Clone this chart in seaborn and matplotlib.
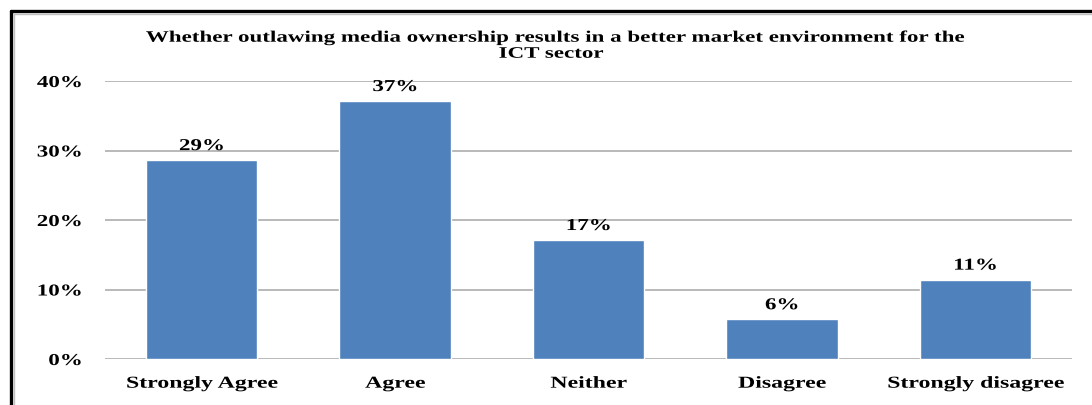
import matplotlib
matplotlib.use("Agg")
import matplotlib.pyplot as plt
import seaborn as sns
import pandas as pd
from matplotlib.lines import Line2D
from matplotlib.patheffects import AbstractPathEffect
from matplotlib.transforms import Affine2D

categories = ["Strongly Agree", "Agree", "Neither", "Disagree", "Strongly disagree"]
shares = [28.6, 37.1, 17.1, 5.7, 11.4]  # percent of respondents
y_ticks = [0, 10, 20, 30, 40]
title_lines = ["Whether outlawing media ownership results in a better market environment for the",
               "ICT sector"]


class WideText(AbstractPathEffect):
    """Draw text glyphs widened horizontally about an anchor edge."""

    def __init__(self, sx, anchor="center"):
        super().__init__()
        self.sx = sx
        self.anchor = anchor

    def draw_path(self, renderer, gc, tpath, affine, rgbFace=None):
        xs = tpath.vertices[:, 0]
        if len(xs) == 0:
            return
        if self.anchor == "right":
            cx = xs.max()
        elif self.anchor == "left":
            cx = xs.min()
        else:
            cx = (xs.min() + xs.max()) / 2
        tr = Affine2D().translate(-cx, 0).scale(self.sx, 1).translate(cx, 0) + affine
        renderer.draw_path(gc, tpath, tr, rgbFace)


df = pd.DataFrame({"category": categories, "share": shares})

sns.set_theme(style="white")
plt.rcParams["font.family"] = ["Liberation Serif", "DejaVu Serif"]
plt.rcParams["font.weight"] = "bold"
plt.rcParams["text.color"] = "black"

W, H = 1092, 405
fig = plt.figure(figsize=(W / 100, H / 100), dpi=100)
fig.patch.set_facecolor("white")

ax = fig.add_axes([105 / W, 46 / H, (1072 - 105) / W, (359 - 81) / H])
sns.barplot(data=df, x="category", y="share", color="#4F81BD", width=0.575,
            saturation=1, ax=ax, zorder=3)

ax.set_ylim(0, 40)
ax.set_xlim(-0.5, len(categories) - 0.5)
ax.set_yticks(y_ticks)
ax.set_yticklabels([f"{t}%" for t in y_ticks], fontsize=12, fontweight="bold", color="black")
ax.tick_params(axis="y", length=0, pad=16.5)
ax.tick_params(axis="x", length=0, pad=12, labelsize=12, labelcolor="black")
for lbl in ax.get_yticklabels():
    lbl.set_path_effects([WideText(1.38, "right")])
for lbl in ax.get_xticklabels():
    lbl.set_fontweight("bold")
    lbl.set_path_effects([WideText(1.43)])
ax.set_xlabel("")
ax.set_ylabel("")
for t in y_ticks:
    ax.axhline(t, color="#A6A6A6", lw=1.1, zorder=1)
for s in ax.spines.values():
    s.set_visible(False)
ax.grid(False)

for i, v in enumerate(shares):
    ax.annotate(f"{v:.0f}%", (i, v), xytext=(0, 7.3), textcoords="offset points",
                ha="center", va="baseline", fontsize=12, fontweight="bold",
                color="black", path_effects=[WideText(1.38)])

fig.text(555.5 / W, 1 - 41.7 / H, title_lines[0], ha="center", va="baseline",
         fontsize=11.5, fontweight="bold", color="black",
         path_effects=[WideText(1.44)])
fig.text(551 / W, 1 - 57.7 / H, title_lines[1], ha="center", va="baseline",
         fontsize=11.5, fontweight="bold", color="black",
         path_effects=[WideText(1.44)])

# frame edges along the top and left of the chart area
fig.add_artist(Line2D([11 / W, 1], [1 - 11 / H, 1 - 11 / H], color="black", lw=2.4,
                      transform=fig.transFigure))
fig.add_artist(Line2D([11 / W, 11 / W], [0, 1 - 11 / H], color="black", lw=2.4,
                      transform=fig.transFigure))
fig.add_artist(Line2D([13.5 / W, 1], [1 - 13.5 / H, 1 - 13.5 / H], color="#BFBFBF", lw=1,
                      transform=fig.transFigure))
fig.add_artist(Line2D([13.5 / W, 13.5 / W], [0, 1 - 13.5 / H], color="#BFBFBF", lw=1,
                      transform=fig.transFigure))

fig.savefig("out.png", dpi=100)
